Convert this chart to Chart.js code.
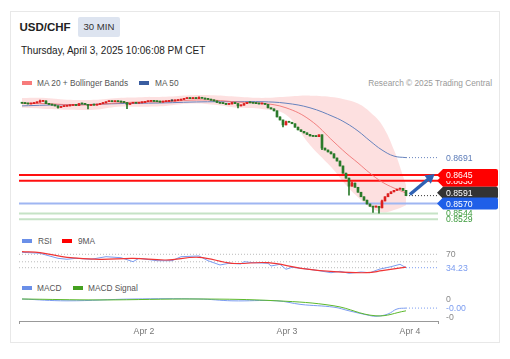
<!DOCTYPE html>
<html><head><meta charset="utf-8">
<script src="https://cdn.jsdelivr.net/npm/chart.js@4.4.1/dist/chart.umd.min.js"></script>
<style>
body{margin:0;background:#fff;font-family:"Liberation Sans",Arial,sans-serif;}
#wrap{position:relative;width:510px;height:359px;overflow:hidden;}
.card{position:absolute;left:10px;top:11px;width:488px;height:330px;border:1px solid #e8e8e8;background:#fff;}
.t{position:absolute;white-space:nowrap;}
.lg{font-size:8.3px;line-height:10px;color:#555;}
.box{position:absolute;height:4px;width:10px;}
canvas{position:absolute;left:10px;}
</style></head>
<body><div id="wrap">
<div class="card"></div>
<div class="t" style="left:19.5px;top:20px;font-size:11.5px;line-height:14px;font-weight:bold;color:#222;">USD/CHF</div>
<div class="t" style="left:78px;top:17px;width:42px;height:20px;background:#dde4f0;border-radius:2px;font-size:9.6px;line-height:20px;text-align:center;color:#333;">30 MIN</div>
<div class="t" style="left:21px;top:45px;font-size:10px;line-height:12px;color:#222;">Thursday, April 3, 2025 10:06:08 PM CET</div>

<div class="box" style="left:22px;top:81px;background:#f77b7b;"></div>
<div class="t lg" style="left:37px;top:78px;">MA 20 + Bollinger Bands</div>
<div class="box" style="left:139px;top:81px;background:#3a5da0;"></div>
<div class="t lg" style="left:155px;top:78px;">MA 50</div>
<div class="t lg" style="right:18px;top:78px;color:#999;">Research © 2025 Trading Central</div>

<div class="box" style="left:22px;top:239px;background:#6a8fe8;"></div>
<div class="t lg" style="left:38px;top:236px;">RSI</div>
<div class="box" style="left:62px;top:239px;background:#ff0000;"></div>
<div class="t lg" style="left:78px;top:236px;">9MA</div>

<div class="box" style="left:22px;top:286px;background:#6a8fe8;"></div>
<div class="t lg" style="left:37px;top:283px;">MACD</div>
<div class="box" style="left:73px;top:286px;background:#44a020;"></div>
<div class="t lg" style="left:88px;top:283px;">MACD Signal</div>

<canvas id="main" width="490" height="138" style="top:90px;width:490px;height:138px;"></canvas>
<canvas id="rsi" width="490" height="32" style="top:246px;width:490px;height:32px;"></canvas>
<canvas id="macd" width="490" height="50" style="top:294px;width:490px;height:50px;"></canvas>
</div>
<script>
// ---- data (30-minute candles, index 0 = first candle) ----
const firstOpen = 0.8835;
const closes = [
0.8834,0.8833,0.8832,0.8833,0.8835,0.8837,0.8839,0.8840,0.8833,0.8831,
0.8829,0.8827,0.8823,0.8825,0.8826,0.8827,0.8828,0.8829,0.8828,0.8833,
0.8832,0.8831,0.8828,0.8830,0.8829,0.8831,0.8833,0.8835,0.8838,0.8839,
0.8838,0.8839,0.8838,0.8837,0.8836,0.8831,0.8834,0.8835,0.8834,0.8835,
0.8836,0.8838,0.8839,0.8840,0.8839,0.8838,0.8837,0.8838,0.8839,0.8840,
0.8840,0.8841,0.8842,0.8844,0.8846,0.8847,0.8846,0.8847,0.8846,0.8849,
0.8847,0.8845,0.8844,0.8842,0.8840,0.8836,0.8834,0.8833,0.8831,0.8832,
0.8836,0.8833,0.8827,0.8829,0.8833,0.8836,0.8835,0.8834,0.8833,0.8832,
0.8833,0.8831,0.8822,0.8819,0.8814,0.8798,0.8790,0.8777,0.8785,0.8784,
0.8780,0.8771,0.8764,0.8760,0.8756,0.8752,0.8748,0.8747,0.8746,0.8751,
0.8716,0.8711,0.8706,0.8701,0.8690,0.8682,0.8669,0.8650,0.8637,0.8616,
0.8624,0.8613,0.8600,0.8588,0.8579,0.8569,0.8563,0.8561,0.8563,0.8559,
0.8577,0.8588,0.8596,0.8601,0.8605,0.8608,0.8610,0.8605,0.8591];
const lowTails  = [[12,0.8821],[22,0.8819],[35,0.8820],[72,0.8822],[87,0.8772],[100,0.8712],[109,0.8592],[117,0.8547],[119,0.8545]];
const highTails = [[6,0.8842],[59,0.8851],[88,0.8787],[110,0.8627],[120,0.8579]];

const bandIdx = [0,8,16,24,32,40,48,56,64,72,80,88,96,104,108,112,116,120,124,128];
const bbUpper = [0.8848,0.8848,0.8843,0.8843,0.8848,0.8850,0.8851,0.8855,0.8855,0.8851,0.8848,0.8851,0.8854,0.8850,0.8843,0.8833,0.8811,0.8777,0.8711,0.8619];
const ma20    = [0.8834,0.8833,0.8830,0.8830,0.8835,0.8837,0.8838,0.8842,0.8842,0.8837,0.8834,0.8822,0.8790,0.8732,0.8703,0.8677,0.8650,0.8627,0.8611,0.8598];
const bbLower = [0.8822,0.8819,0.8817,0.8817,0.8825,0.8825,0.8827,0.8833,0.8830,0.8822,0.8819,0.8804,0.8724,0.8658,0.8619,0.8587,0.8561,0.8547,0.8553,0.8566];
const ma50    = [0.8827,0.8829,0.8830,0.8831,0.8833,0.8834,0.8835,0.8837,0.8838,0.8838,0.8838,0.8834,0.8822,0.8798,0.8782,0.8761,0.8735,0.8711,0.8695,0.8691];

const resistLevels = [0.8645, 0.8630];
const resistTexts  = ['0.8645', '0.8630'];
const pivotLevel = 0.8570, pivotText = '0.8570';
const supportLevels = [0.8544, 0.8529];
const supportTexts  = ['0.8544', '0.8529'];
const lastClose = 0.8591, lastCloseText = '0.8591';
const ma50Last = 0.8691, ma50LastText = '0.8691';
const arrowIdx = [129.3, 136];
const arrowVal = [0.8594, 0.8638];

const rsiIdx = [0,6,8,12,15,18,23,28,33,37,39,45,50,53,59,62,66,69,73,74,77,82,83,86,88,90,95,99,103,106,109,113,116,119,123,126,128];
const rsiVal = [75.3,72.7,68.1,59.3,56.7,59.3,56.7,63.6,60.9,50.3,59.3,52.9,52.9,63.6,65.5,52.9,41.5,46,44.1,50.3,47.6,46,38.8,43.3,30,35.3,30.8,26.3,20.9,24.7,19.3,22.8,20.9,30,36.9,43.3,34.23];
const ma9Idx = [0,6,15,26,37,48,59,70,82,93,104,115,120,128];
const ma9Val = [76.9,74.3,62,56.7,59.3,54.8,62,46,47.6,32.7,23.6,20.9,26.3,36];
const rsiLevels = [70, 50];
const rsiLast = 34.23, rsiLastText = '34.23';

const macdIdx = [0,15,37,59,70,85,93,104,109,115,118,122,125,128];
const macdVal = [0,-0.0004,0,0,-0.0004,-0.0004,-0.0012,-0.0018,-0.0026,-0.0035,-0.0038,-0.0033,-0.0022,-0.0020];
const sigIdx = [0,26,59,85,104,118,128];
const sigVal = [0,-0.0002,0,-0.0004,-0.0015,-0.0037,-0.0026];
const macdTicks = [[0,'0'],[-0.0039,'-0']];
const macdLast = -0.0020, macdLastText = '-0.00';

const tickPos = [40.67, 88.33, 129.33];
const tickLabels = ['Apr 2', 'Apr 3', 'Apr 4'];

// ---- helpers ----
const FONT = '"Liberation Sans", Arial, sans-serif';
const XMIN = -1, XMAX = 138.67;
const lastIdx = closes.length - 1;
const pts = (xs, ys) => xs.map((x, i) => ({x, y: ys[i]}));
const hline = (v, x0 = XMIN, x1 = XMAX) => [{x: x0, y: v}, {x: x1, y: v}];

function tagPath(ctx, x, y, w, h, tip) {
  ctx.beginPath();
  ctx.moveTo(x, y);
  ctx.lineTo(x + tip, y - h / 2);
  ctx.lineTo(x + w - 2, y - h / 2);
  ctx.quadraticCurveTo(x + w, y - h / 2, x + w, y - h / 2 + 2);
  ctx.lineTo(x + w, y + h / 2 - 2);
  ctx.quadraticCurveTo(x + w, y + h / 2, x + w - 2, y + h / 2);
  ctx.lineTo(x + tip, y + h / 2);
  ctx.closePath();
}
const sideLabels = {
  id: 'sideLabels',
  afterDraw(chart, args, opts) {
    const {ctx, chartArea} = chart;
    const y = chart.scales.y;
    ctx.save();
    ctx.font = '8.7px ' + FONT;
    ctx.textBaseline = 'middle';
    ctx.textAlign = 'left';
    (opts.items || []).forEach(it => {
      const py = y.getPixelForValue(it.v) + (it.dy || 0);
      if (it.bg) {
        ctx.fillStyle = it.bg;
        tagPath(ctx, chartArea.right - 1, py, 61, 12, 6);
        ctx.fill();
      }
      ctx.fillStyle = it.color;
      ctx.fillText(it.text, chartArea.right + 8, py + 0.5);
    });
    ctx.restore();
  }
};
Chart.register(sideLabels);

const baseX = {type: 'linear', min: XMIN, max: XMAX, offset: false, display: false};
const pad = () => ({autoPadding: false, padding: {left: 9, right: 62, top: 0, bottom: 0}});
const common = {responsive: false, animation: false, events: [], devicePixelRatio: 1};

// ---- main chart ----
const opens = closes.map((c, i) => i === 0 ? firstOpen : closes[i - 1]);
const UP = '#dd2020', DOWN = '#2a7a2a', DOJI = '#444';
const bodyColors = closes.map((c, i) => c > opens[i] ? UP : (c < opens[i] ? DOWN : DOJI));
const wickLo = closes.map((c, i) => Math.min(c, opens[i]));
const wickHi = closes.map((c, i) => Math.max(c, opens[i]));
lowTails.forEach(([i, v]) => wickLo[i] = v);
highTails.forEach(([i, v]) => wickHi[i] = v);

const levelDs = (v, color) => ({type: 'line', data: hline(v), borderColor: color, borderWidth: 2, pointRadius: 0, order: 8});

new Chart(document.getElementById('main'), {
  type: 'bar',
  data: {datasets: [
    {type: 'line', data: pts(bandIdx, bbUpper), borderWidth: 0, pointRadius: 0, tension: 0.4,
     fill: '+1', backgroundColor: 'rgba(245,100,100,0.2)', order: 10},
    {type: 'line', data: pts(bandIdx, bbLower), borderWidth: 0, pointRadius: 0, tension: 0.4, fill: false, order: 10},
    levelDs(resistLevels[0], '#ff1010'),
    levelDs(resistLevels[1], '#ff1010'),
    levelDs(pivotLevel, '#9fb6f2'),
    levelDs(supportLevels[0], '#c6e3c6'),
    levelDs(supportLevels[1], '#c6e3c6'),
    {type: 'line', data: pts(bandIdx, ma20), borderColor: 'rgba(240,110,110,0.85)', borderWidth: 1, pointRadius: 0, tension: 0.4, order: 7},
    {type: 'line', data: pts(bandIdx, ma50), borderColor: '#6682bd', borderWidth: 1, pointRadius: 0, tension: 0.4, order: 7},
    {type: 'line', data: hline(ma50Last, lastIdx, XMAX), borderColor: '#6682bd', borderWidth: 1, borderDash: [1, 2], pointRadius: 0, order: 6},
    {type: 'line', data: hline(lastClose, lastIdx, XMAX), borderColor: '#333', borderWidth: 1, borderDash: [1, 2], pointRadius: 0, order: 6},
    {type: 'bar', data: closes.map((c, i) => ({x: i, y: [wickLo[i], wickHi[i]]})), backgroundColor: bodyColors,
     barThickness: 1, minBarLength: 1, grouped: false, order: 4},
    {type: 'bar', data: closes.map((c, i) => ({x: i, y: [opens[i], c]})), backgroundColor: bodyColors,
     barThickness: 2, minBarLength: 1, grouped: false, order: 3},
    {type: 'line', data: pts(arrowIdx, arrowVal), borderColor: '#2f62b3', borderWidth: 3.5,
     pointRadius: [0, 6], pointStyle: 'triangle', rotation: 52, pointBackgroundColor: '#2f62b3', pointBorderWidth: 0, order: 1, clip: false}
  ]},
  options: {...common,
    layout: pad(),
    scales: {x: baseX, y: {type: 'linear', min: 0.85059, max: 0.88688, display: false, beginAtZero: false}},
    plugins: {legend: {display: false}, tooltip: {enabled: false},
      sideLabels: {items: [
        {v: supportLevels[0], text: supportTexts[0], color: '#3d9b3d'},
        {v: supportLevels[1], text: supportTexts[1], color: '#3d9b3d'},
        {v: ma50Last, text: ma50LastText, color: '#5b7bb8'},
        {v: resistLevels[1], text: resistTexts[1], color: '#fff', bg: '#ff0000'},
        {v: resistLevels[0], text: resistTexts[0], color: '#fff', bg: '#ff0000'},
        {v: lastClose, text: lastCloseText, color: '#fff', bg: '#333', dy: -3},
        {v: pivotLevel, text: pivotText, color: '#fff', bg: '#1f5fe8'}
      ]}}
  }
});

// ---- RSI ----
const dotted = (data, color) => ({data, borderColor: color, borderWidth: 1, borderDash: [1, 2], pointRadius: 0});
new Chart(document.getElementById('rsi'), {
  type: 'line',
  data: {datasets: [
    {...dotted(hline(rsiLevels[0]), '#bbb'), order: 5},
    {...dotted(hline(rsiLevels[1]), '#bbb'), order: 5},
    {...dotted(hline(rsiLast, XMIN, lastIdx), '#bbb'), order: 5},
    {...dotted(hline(rsiLast, lastIdx, XMAX), '#7b9cf0'), order: 5},
    {data: pts(rsiIdx, rsiVal), borderColor: '#7b9cf0', borderWidth: 1, pointRadius: 0, tension: 0, order: 2},
    {data: pts(ma9Idx, ma9Val), borderColor: '#f03535', borderWidth: 1.2, pointRadius: 0, tension: 0.4, order: 1}
  ]},
  options: {...common,
    layout: pad(),
    scales: {x: baseX, y: {type: 'linear', min: 6.8, max: 92.1, display: false}},
    plugins: {legend: {display: false}, tooltip: {enabled: false},
      sideLabels: {items: [
        {v: rsiLevels[0], text: String(rsiLevels[0]), color: '#888'},
        {v: rsiLast, text: rsiLastText, color: '#7b9cf0'}
      ]}}
  }
});

// ---- MACD ----
new Chart(document.getElementById('macd'), {
  type: 'line',
  data: {datasets: [
    {...dotted(hline(macdLast, lastIdx, XMAX), '#7b9cf0'), order: 5},
    {data: pts(macdIdx, macdVal), borderColor: '#7b9cf0', borderWidth: 1, pointRadius: 0, tension: 0.4, order: 2},
    {data: pts(sigIdx, sigVal), borderColor: '#5cb82c', borderWidth: 1, pointRadius: 0, tension: 0.4, order: 1}
  ]},
  options: {...common,
    layout: {autoPadding: false, padding: {left: 9, right: 62, top: 2, bottom: 0}},
    scales: {
      x: {type: 'linear', min: XMIN, max: XMAX, offset: false, display: true, position: 'bottom',
        afterBuildTicks: s => { s.ticks = [XMIN, ...tickPos, XMAX].map(v => ({value: v})); },
        afterFit: s => { s.height = 23; },
        grid: {display: true, drawOnChartArea: false, drawTicks: true, tickLength: 3,
          color: c => (c.index === 0 || c.index === tickPos.length + 1) ? '#999' : 'rgba(0,0,0,0)'},
        border: {display: true, color: '#999', width: 1},
        ticks: {autoSkip: false, maxRotation: 0, padding: 2, color: '#777', font: {size: 8.7, family: FONT},
          callback: (v, i) => (i > 0 && i <= tickPos.length) ? tickLabels[i - 1] : ''}
      },
      y: {type: 'linear', min: -0.00484, max: 0.00066, display: false}
    },
    plugins: {legend: {display: false}, tooltip: {enabled: false},
      sideLabels: {items: [
        {v: macdTicks[0][0], text: macdTicks[0][1], color: '#888'},
        {v: macdTicks[1][0], text: macdTicks[1][1], color: '#888'},
        {v: macdLast, text: macdLastText, color: '#7b9cf0'}
      ]}}
  }
});
</script>
</body></html>
